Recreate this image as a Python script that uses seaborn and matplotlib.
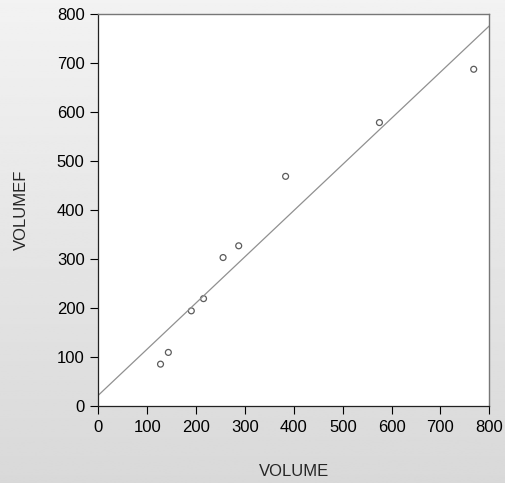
import numpy as np
import pandas as pd
import seaborn as sns
import matplotlib.pyplot as plt

# valores
volume = [127, 143, 190, 215, 255, 287, 383, 575, 768]
volumef = [85, 109, 194, 219, 303, 327, 469, 579, 688]
ticks = [0, 100, 200, 300, 400, 500, 600, 700, 800]

df = pd.DataFrame({'VOLUME': volume, 'VOLUMEF': volumef})

sns.set_style('ticks')
plt.rcParams['font.family'] = ['Liberation Sans', 'DejaVu Sans']
plt.rcParams['font.size'] = 12

fig = plt.figure(figsize=(5.05, 4.83), dpi=100)

# fundo em degrade cinza
bg = fig.add_axes([0, 0, 1, 1], zorder=-1)
grad = np.linspace(0.95, 0.85, 256).reshape(-1, 1)
bg.imshow(grad, aspect='auto', cmap='gray', vmin=0, vmax=1, extent=[0, 1, 0, 1])
bg.axis('off')

ax = fig.add_axes([0.195, 0.160, 0.774, 0.810])
ax.set_facecolor('white')
ax.set_xlim(0, 800)
ax.set_ylim(0, 800)

sns.regplot(data=df, x='VOLUME', y='VOLUMEF', ax=ax, ci=None, truncate=False,
            scatter_kws={'s': 18, 'facecolors': 'none', 'edgecolors': '#333333', 'linewidths': 0.9},
            line_kws={'color': '#909090', 'lw': 0.9})

ax.set_xlim(0, 800)
ax.set_ylim(0, 800)
ax.set_xticks(ticks)
ax.set_yticks(ticks)
ax.tick_params(direction='out', length=6, width=0.8, colors='black', labelsize=12, pad=4)

for s in ['left', 'bottom']:
    ax.spines[s].set_color('#222222')
    ax.spines[s].set_linewidth(0.9)
for s in ['top', 'right']:
    ax.spines[s].set_visible(True)
    ax.spines[s].set_color('#777777')
    ax.spines[s].set_linewidth(1.0)

ax.set_xlabel('VOLUME', fontsize=12, labelpad=21)
ax.set_ylabel('VOLUMEF', fontsize=12, labelpad=20)

fig.savefig('out.png', dpi=100)
